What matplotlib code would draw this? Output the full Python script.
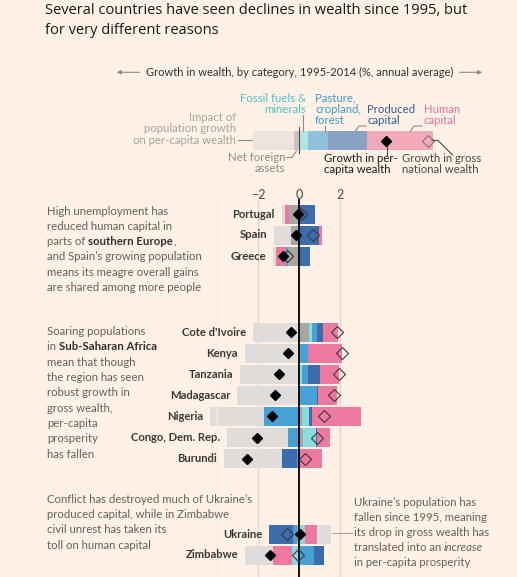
import matplotlib
matplotlib.use('Agg')
import matplotlib.pyplot as plt
from matplotlib.transforms import Affine2D

plt.rcParams['font.family'] = ['Lato', 'DejaVu Sans']

# data: growth in wealth by category, 1995-2014 (% annual average)
countries = ['Portugal', 'Spain', 'Greece',
             "Cote d'Ivoire", 'Kenya', 'Tanzania', 'Madagascar', 'Nigeria',
             'Congo, Dem. Rep.', 'Burundi',
             'Ukraine', 'Zimbabwe']
population = [-0.15, -0.82, -0.13, -2.27, -2.65, -2.90, -2.97, -2.60, -2.96, -2.85, 0.68, -1.38]
net_foreign = [-0.50, -0.40, -0.55, 0.49, 0.05, 0.0, -0.05, 0.12, 0.20, 0.0, -0.10, 0.0]
fossil = [0.0, 0.0, 0.0, 0.12, 0.0, 0.13, 0.0, 0.33, 0.62, 0.0, 0.28, -0.37]
pasture = [0.0, 0.0, -0.10, 0.23, 0.39, 0.29, 0.85, -1.74, -0.57, -0.12, -0.20, 0.72]
produced = [0.78, 0.98, 0.50, 0.33, 0.0, 0.57, 0.06, 0.16, 0.05, -0.71, -1.17, 0.49]
human = [-0.20, 0.11, -0.50, 0.70, 1.64, 0.94, 0.92, 2.42, 0.62, 1.12, 0.57, -0.90]
gross = [0.10, 0.69, -0.58, 1.85, 2.10, 1.95, 1.69, 1.22, 0.88, 0.28, -0.61, -0.05]
per_capita = [-0.05, -0.18, -0.78, -0.40, -0.57, -0.97, -1.19, -1.35, -2.08, -2.57, 0.05, -1.43]

# key bar (illustrative)
key_values = [-2.0, -0.25, 0.40, 1.02, 1.88, 3.22]   # pop, nfa, fossil, pasture, produced, human
key_gross = 6.27
key_per_capita = 4.23

colors = ['#e0dcd9', '#a9a5a2', '#86dce0', '#47a1d6', '#3b6cab', '#ee79a0']
BG = '#fff1e5'
W, H = 517, 577
ZERO_PX, PX_PER_UNIT = 299.3, 20.5

fig = plt.figure(figsize=(W / 100, H / 100), dpi=100, facecolor=BG)
ax = fig.add_axes([0, 0, 1, 1])
ax.set_facecolor(BG)
ax.set_xlim(-ZERO_PX / PX_PER_UNIT, (W - ZERO_PX) / PX_PER_UNIT)
ax.set_ylim(H, 0)
ax.axis('off')

# pixel transform for text / leader lines
pix = Affine2D().scale(1 / W, -1 / H).translate(0, 1) + fig.transFigure

# row positions (pixel rows)
row_y = [214, 235, 256] + [332 + 21.1 * i for i in range(7)] + [534, 555]
BAR_H = 19


def stacked(y, comps, alpha=1.0, z=2):
    # non-population components stacked outward from zero, population outermost
    pos, neg = 0.0, 0.0
    order = [1, 2, 3, 4, 5, 0]
    for k in order:
        v = comps[k]
        if v == 0:
            continue
        if v > 0:
            ax.barh(y, v, left=pos, height=BAR_H, color=colors[k], alpha=alpha, lw=0, zorder=z)
            pos += v
        else:
            ax.barh(y, v, left=neg, height=BAR_H, color=colors[k], alpha=alpha, lw=0, zorder=z)
            neg += v
    return min(neg, 0), pos


# gridlines
for g, c in [(-2, '#e3d6ca'), (2, '#e3d6ca'), (-4, '#f3ede8')]:
    ax.plot([g, g], [200, H], color=c, lw=1, zorder=3 if g == -4 else 1)
for g in [-2, 0, 2]:
    ax.text(g, 195, '\u22122' if g < 0 else str(g), ha='center', va='center',
            fontsize=9, color='#4d4845')

for i, name in enumerate(countries):
    comps = [population[i], net_foreign[i], fossil[i], pasture[i], produced[i], human[i]]
    lo, hi = stacked(row_y[i], comps)
    ax.annotate(name, xy=(lo, row_y[i]), xytext=(-5, 0), textcoords='offset points',
                ha='right', va='center', fontsize=8.1, fontweight='bold', color='#3d3834')

ax.plot([0, 0], [200, H], color='black', lw=1.3, zorder=4)
ax.plot(gross, row_y, ls='none', marker='D', ms=6.5, mfc='none', mec='#3d3835', mew=0.8, zorder=5)
ax.plot(per_capita, row_y, ls='none', marker='D', ms=5.5, mfc='black', mec='black', zorder=6)

# key
KEY_Y = 140.5
stacked(KEY_Y, key_values, alpha=0.6)
ax.plot([0, 0], [127, 153], color='#4d4845', lw=0.8, zorder=4)
ax.plot([key_gross], [KEY_Y], marker='D', ms=6.5, mfc='none', mec='#8a6d70', mew=0.8, zorder=5)
ax.plot([key_per_capita], [KEY_Y], marker='D', ms=5.5, mfc='black', mec='black', zorder=6)


def line(xs, ys, c='#8f8a86'):
    ax.plot(xs, ys, color=c, lw=0.8, transform=pix, zorder=7)


def txt(x, y, s, ha='left', c='#66605c', fs=8.2, **kw):
    return ax.text(x, y, s, ha=ha, va='center', color=c, fontsize=fs, transform=pix, **kw)


# title
ax.text(45, 11, 'Several countries have seen declines in wealth since 1995, but',
        fontsize=10.5, color='#1a1817', va='center', transform=pix, family=['Open Sans', 'DejaVu Sans'])
ax.text(45, 30, 'for very different reasons',
        fontsize=10.5, color='#1a1817', va='center', transform=pix, family=['Open Sans', 'DejaVu Sans'])

# header with arrows
txt(300, 72.3, 'Growth in wealth, by category, 1995-2014 (%, annual average)', ha='center',
    c='#33302e', fs=8.0)
ax.annotate('', xy=(114, 72.3), xytext=(142, 72.3), xycoords=pix, textcoords=pix,
            arrowprops=dict(arrowstyle='-|>', color='#8f8a86', lw=0.8, mutation_scale=6))
ax.annotate('', xy=(485, 72.3), xytext=(457, 72.3), xycoords=pix, textcoords=pix,
            arrowprops=dict(arrowstyle='-|>', color='#8f8a86', lw=0.8, mutation_scale=6))

# key labels
txt(306, 98, 'Fossil fuels &', ha='right', c='#4dc1c8')
txt(306, 109.5, 'minerals', ha='right', c='#4dc1c8')
line([302.7, 302.7], [115, 131])
for j, s in enumerate(['Pasture,', 'cropland,', 'forest']):
    txt(315, 97.5 + 11.6 * j, s, c='#3d9bd2')
line([325, 325], [126, 131])
txt(367.5, 109.5, 'Produced', c='#2f5d98')
txt(367.5, 121, 'capital', c='#2f5d98')
line([355.5, 359, 366], [131, 126, 126])
txt(424, 109.5, 'Human', c='#e8729a')
txt(424, 121, 'capital', c='#e8729a')
line([410.5, 414, 422], [131, 126, 126])
for j, s in enumerate(['Impact of', 'population growth', 'on per-capita wealth']):
    txt(236, 117.5 + 11.5 * j, s, ha='right', c='#a8a29e')
line([238, 252], [140.3, 140.3])
txt(285, 157.5, 'Net foreign', ha='right', c='#8f8a86')
txt(285, 169, 'assets', ha='right', c='#8f8a86')
line([287, 292, 296.5], [157.5, 157.5, 151])
txt(323.5, 158, 'Growth in per-', c='#1a1817')
txt(323.5, 169.5, 'capita wealth', c='#1a1817')
line([386.5, 386.5], [146, 155], c='#4d4845')
txt(402.5, 158, 'Growth in gross', c='#4d4845')
txt(402.5, 169.5, 'national wealth', c='#4d4845')
line([432, 438, 452.5], [140.5, 140.5, 155], c='#4d4845')


def rich(x, y, parts):
    prev = None
    for s, style in parts:
        kw = dict(color='#66605c', fontsize=8.2)
        if style == 'b':
            kw.update(fontweight='bold', color='#33302e')
        elif style == 'i':
            kw.update(style='italic')
        if prev is None:
            prev = ax.text(x, y, s, ha='left', va='center', transform=pix, **kw)
        else:
            prev = ax.annotate(s, xy=(1, 0), xycoords=prev, ha='left', va='bottom', **kw)


block1 = [[('High unemployment has', '')],
          [('reduced human capital in', '')],
          [('parts of ', ''), ('southern Europe', 'b'), (',', '')],
          [('and Spain\u2019s growing population', '')],
          [('means its meagre overall gains', '')],
          [('are shared among more people', '')]]
block2 = [[('Soaring populations', '')],
          [('in ', ''), ('Sub-Saharan Africa', 'b')],
          [('mean that though', '')],
          [('the region has seen', '')],
          [('robust growth in', '')],
          [('gross wealth,', '')],
          [('per-capita', '')],
          [('prosperity', '')],
          [('has fallen', '')]]
block3 = [[('Conflict has destroyed much of Ukraine\u2019s', '')],
          [('produced capital, while in Zimbabwe', '')],
          [('civil unrest has taken its', '')],
          [('toll on human capital', '')]]
block4 = [[('Ukraine\u2019s population has', '')],
          [('fallen since 1995, meaning', '')],
          [('its drop in gross wealth has', '')],
          [('translated into an ', ''), ('increase', 'i')],
          [('in per-capita prosperity', '')]]

for bx, by, dy, blk in [(47, 211.7, 15.1, block1), (47, 331.7, 15.3, block2),
                        (47, 499.3, 15.3, block3), (353.7, 502.7, 14.9, block4)]:
    for j, parts in enumerate(blk):
        rich(bx, by + dy * j, parts)

line([331.5, 351.5], [533, 533], c='#a8a29e')

fig.savefig('out.png', dpi=100, facecolor=BG)
